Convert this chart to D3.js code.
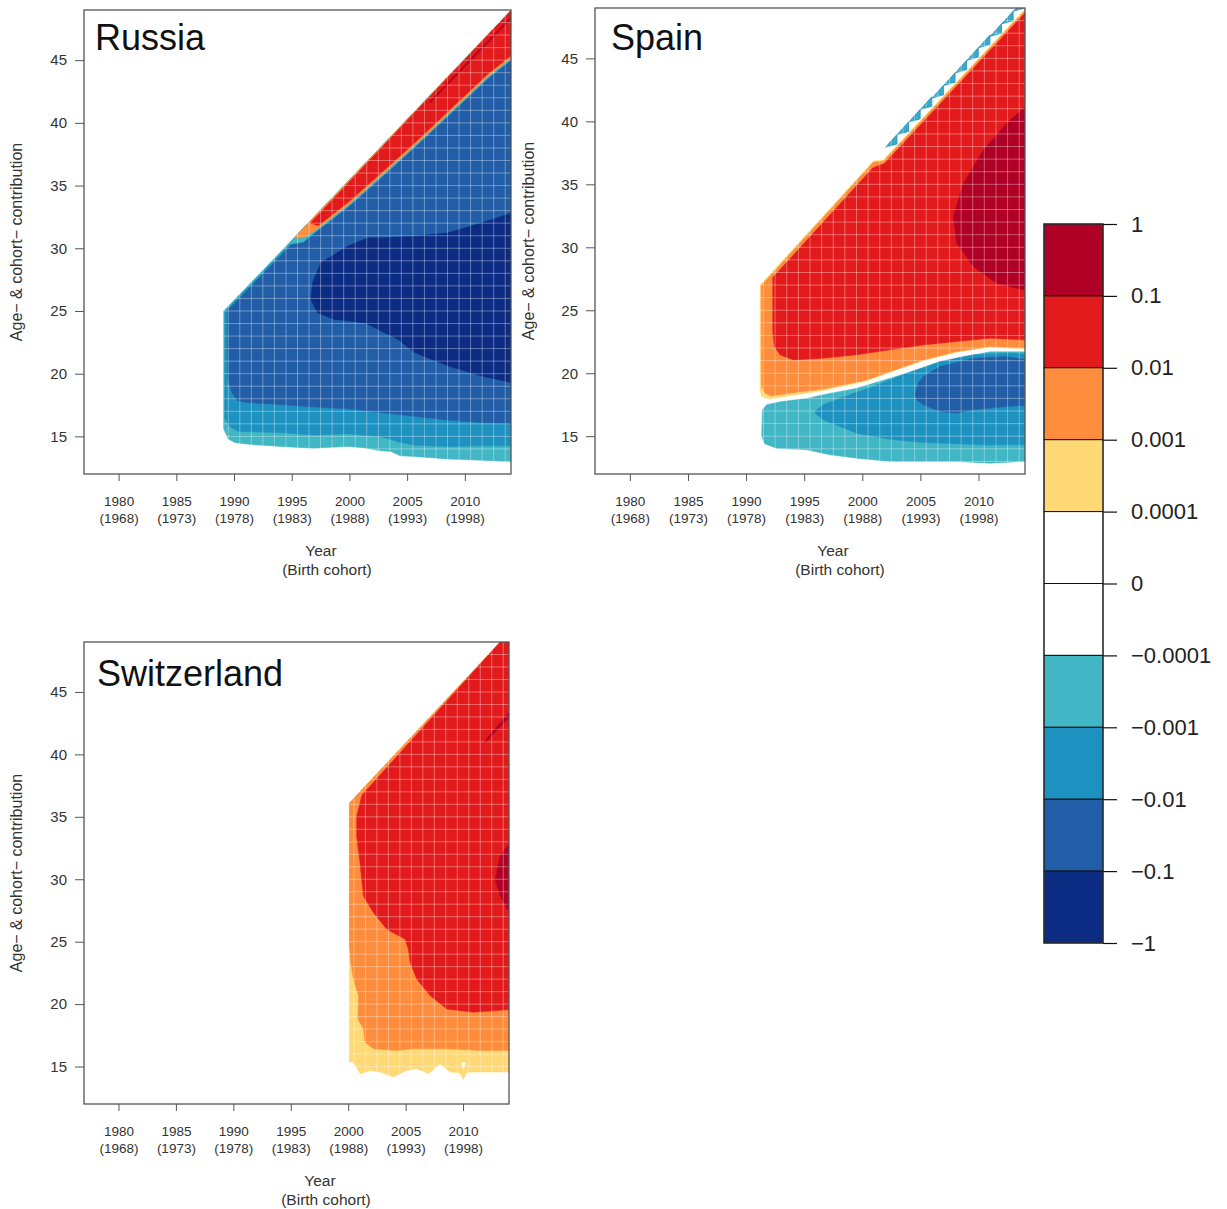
<!DOCTYPE html>
<html>
<head>
<meta charset="utf-8">
<script src="https://cdn.jsdelivr.net/npm/d3@7"></script>
<style>
  body { margin: 0; background: #fff; }
  text { font-family: "Liberation Sans", Arial, Helvetica, sans-serif; }
</style>
</head>
<body>
<script>
const width = 1227;
const height = 1209;

// axis ranges and ticks
const yearRange = [1977, 2014];
const ageRange = [12, 49];
const xTickYears = [1980, 1985, 1990, 1995, 2000, 2005, 2010];
const xTickCohorts = [1968, 1973, 1978, 1983, 1988, 1993, 1998];
const yTicks = [15, 20, 25, 30, 35, 40, 45];

// colour key, top (1) to bottom (-1)
const legendBreaks = ['1', '0.1', '0.01', '0.001', '0.0001', '0', '\u22120.0001', '\u22120.001', '\u22120.01', '\u22120.1', '\u22121'];
const levelColors = ['#B10026', '#E31A1C', '#FD8D3C', '#FED976', '#FFFFFF', '#FFFFFF', '#41B6C4', '#1D91C0', '#225EA8', '#0C2C84'];

// contour regions as [year, age] outlines
// Russia
const ruDomain = [[1989.1,25.0],[1995.2,30.83],[2014.04,49.0],[2014.6,49.55],[2014.6,12.95],[2011.4,13.1],[2008.5,13.2],[2005.6,13.4],[2004.4,13.45],[2003.6,13.8],[2002.7,13.85],[2001.2,14.1],[1999.8,14.2],[1996.9,14.05],[1994.0,14.2],[1991.5,14.35],[1990.1,14.5],[1989.5,14.8],[1989.1,15.6]];
const ruMid = [[1989.2,24.95],[1995.2,30.7],[2014.6,49.3],[2014.6,14.25],[2011.4,14.25],[2008.5,14.2],[2005.6,14.3],[2004.5,14.5],[2002.7,15.0],[1999.8,15.2],[1996.9,15.1],[1994.0,15.3],[1990.3,15.4],[1989.6,15.8],[1989.2,16.4]];
const ruBlue = [[1989.4,25.0],[1995.2,30.5],[2014.6,49.0],[2014.6,16.0],[2011.4,16.1],[2008.5,16.3],[2005.6,16.6],[2002.7,16.9],[1999.8,17.2],[1996.9,17.35],[1994.0,17.55],[1991.1,17.7],[1990.3,17.85],[1989.8,18.5],[1989.45,19.5]];
const ruDark = [[2014.6,33.0],[2014.04,32.82],[2011.43,32.02],[2008.54,31.23],[2005.64,30.96],[2002.74,30.83],[2001.58,30.83],[1999.84,30.17],[1997.52,28.84],[1996.8,27.25],[1996.65,25.92],[1997.23,24.86],[1998.68,24.33],[2001.29,24.07],[2004.19,22.74],[2005.64,21.68],[2008.54,20.62],[2011.43,19.82],[2014.04,19.29],[2014.6,19.2]];
const ruStripCyan = [[1994.7,30.3],[1995.2,30.83],[2014.04,49.0],[2014.6,49.55],[2014.6,45.45],[2012,43.55],[2009,40.95],[2006,38.35],[2003,35.85],[2000,33.4],[1997,31.25],[1996.0,30.5]];
const ruStripOrange = [[1995.2,30.83],[2014.04,49.0],[2014.6,49.55],[2014.6,45.6],[2012,43.7],[2009,41.1],[2006,38.5],[2003,36.0],[2000,33.55],[1997,31.4],[1996.0,30.83]];
const ruStripRed = [[1996.6,32.0],[2014.04,49.0],[2014.6,49.55],[2014.6,45.8],[2012,43.9],[2009,41.3],[2006,38.7],[2003,36.2],[2000,33.75],[1997.3,31.8]];
const ruStripLine = [[2007.0,41.6],[2014.6,48.85],[2014.6,49.05],[2007.0,41.75]];

// Spain
const spYellow = [[1991.2,27.0],[2000.95,36.85],[2001.81,36.94],[2014.6,49.5],[2014.6,21.95],[2013.86,21.95],[2011.0,22.07],[2008.12,21.67],[2005.26,21.0],[2002.39,20.08],[2000.38,19.38],[1996.65,18.62],[1993.78,18.22],[1992.06,17.94],[1991.34,18.15],[1991.2,18.68]];
const spOrange = [[1991.3,26.95],[2000.95,36.75],[2001.81,36.84],[2014.6,49.4],[2014.6,22.0],[2013.86,22.0],[2011.0,22.12],[2008.12,21.72],[2005.26,21.06],[2002.39,20.14],[2000.38,19.47],[1996.65,18.74],[1993.78,18.42],[1992.2,18.2],[1991.63,18.42],[1991.34,18.95]];
const spRed = [[1992.3,27.6],[2000.9,36.3],[2001.9,36.65],[2014.6,49.2],[2014.6,22.65],[2013.86,22.65],[2011.0,22.78],[2008.12,22.52],[2005.26,22.25],[2002.39,21.86],[1999.52,21.46],[1996.65,21.2],[1994.07,21.06],[1992.92,21.46],[1992.43,22.12],[1992.3,23.2]];
const spDarkRed = [[2014.6,41.2],[2013.86,41.04],[2012.43,39.85],[2010.42,37.73],[2008.7,35.08],[2007.84,32.44],[2008.12,30.32],[2009.56,28.47],[2011.57,27.15],[2013.86,26.62],[2014.6,26.5]];
const spCyan = [[1991.4,17.1],[1991.77,17.5],[1993.06,17.75],[1995.22,18.0],[1996.65,18.3],[1999.52,18.8],[2002.39,19.6],[2005.26,20.4],[2008.12,21.2],[2011.0,21.7],[2014.6,21.7],[2014.6,12.95],[2013.86,13.0],[2011.0,12.86],[2008.12,13.0],[2005.26,13.0],[2002.39,13.0],[1999.52,13.26],[1997.22,13.52],[1995.22,13.92],[1992.6,14.05],[1991.6,14.4],[1991.34,15.0]];
const spMid = [[1995.93,16.83],[1996.08,17.1],[1996.65,17.49],[1998.08,18.02],[2000.95,18.95],[2003.82,20.0],[2006.69,20.93],[2009.56,21.46],[2012.43,21.6],[2014.6,21.5],[2014.6,14.35],[2011.0,14.3],[2008.12,14.4],[2005.26,14.5],[2002.39,14.75],[1999.52,15.24],[1998.08,15.77],[1996.65,16.3]];
const spBlue = [[2004.54,18.29],[2004.8,19.2],[2005.26,19.74],[2006.69,20.53],[2009.56,21.2],[2012.43,21.33],[2014.6,21.0],[2014.6,17.5],[2012.43,17.36],[2009.56,17.1],[2008.12,16.83],[2006.69,16.96],[2005.26,17.49],[2004.68,17.89]];
// small negative cells along the Spain diagonal
const spTriYears = [2002.6, 2003.6, 2004.6, 2005.6, 2006.6, 2007.6, 2008.6, 2009.6, 2010.6, 2011.6, 2012.6, 2013.6];
const spTriAges = [38.0, 39.0, 40.0, 41.0, 41.9, 42.9, 43.9, 44.9, 45.9, 46.8, 47.8, 48.8];

// Switzerland
const swYellow = [[2000.1,36.1],[2013.23,49.0],[2014.6,50.35],[2014.6,14.56],[2012.36,14.56],[2010.9,14.56],[2010.3,14.5],[2010.03,13.95],[2009.7,14.5],[2008.87,14.56],[2008.0,15.22],[2006.99,14.43],[2005.97,14.82],[2005.1,14.69],[2003.94,14.16],[2002.78,14.56],[2001.9,14.69],[2001.03,14.43],[2000.45,15.36],[2000.1,15.36]];
const swNotch = [[2009.85,15.3],[2010.2,15.3],[2010.03,14.8]];
const swOrange = [[2000.1,36.1],[2013.23,49.0],[2014.6,50.35],[2014.6,16.29],[2011.48,16.29],[2008.58,16.42],[2005.68,16.42],[2004.23,16.29],[2002.2,16.42],[2001.47,16.95],[2001.32,18.02],[2000.85,18.81],[2000.9,20.68],[2000.45,22.0],[2000.22,23.34],[2000.12,24.67],[2000.1,25.5]];
const swRed = [[2001.2,36.75],[2013.23,49.0],[2014.6,50.35],[2014.6,19.61],[2012.94,19.48],[2010.9,19.35],[2008.58,19.61],[2007.13,20.68],[2005.97,22.0],[2005.39,23.34],[2005.24,24.4],[2004.95,25.2],[2003.36,26.0],[2002.2,27.32],[2001.32,28.65],[2001.03,31.31],[2000.74,33.44],[2000.74,35.04]];
const swDarkRed = [[2014.6,33.1],[2014.04,32.91],[2013.23,31.85],[2012.79,29.98],[2013.23,28.65],[2014.04,27.32],[2014.6,27.1]];
const swSliver = [[2011.9,40.9],[2014.6,43.55],[2014.6,44.0],[2012.05,41.25]];

// layout of the three panels
const panels = [
  { name: 'Russia', box: [84, 10, 511, 474], title: [95, 50], ylab: 18, xlab: [321, 327],
    regions: [[6, ruDomain], [7, ruMid], [8, ruBlue], [9, ruDark], [6, ruStripCyan], [2, ruStripOrange], [1, ruStripRed], [0, ruStripLine]] },
  { name: 'Spain', box: [595, 8, 1025, 474], title: [611, 50], ylab: 530, xlab: [833, 840], triangles: true,
    regions: [[3, spYellow], [2, spOrange], [1, spRed], [0, spDarkRed], [6, spCyan], [7, spMid], [8, spBlue]] },
  { name: 'Switzerland', box: [84, 642, 509, 1104], title: [97, 686], ylab: 18, xlab: [320, 326],
    regions: [[3, swYellow], [4, swNotch], [2, swOrange], [1, swRed], [0, swDarkRed], [0, swSliver]] }
];

const svg = d3.select('body').append('svg')
  .attr('width', width)
  .attr('height', height);

panels.forEach((p, i) => {
  const [x0, y0, x1, y1] = p.box;
  const x = d3.scaleLinear().domain(yearRange).range([x0, x1]);
  const y = d3.scaleLinear().domain(ageRange).range([y1, y0]);

  const clipId = 'clip' + i;
  svg.append('clipPath').attr('id', clipId)
    .append('rect').attr('x', x0).attr('y', y0).attr('width', x1 - x0).attr('height', y1 - y0);

  const g = svg.append('g').attr('clip-path', `url(#${clipId})`);

  const outline = d3.line()
    .x(d => x(d[0]))
    .y(d => y(d[1]))
    .curve(d3.curveLinearClosed);

  g.selectAll('path.region')
    .data(p.regions)
    .enter().append('path')
    .attr('class', 'region')
    .attr('d', d => outline(d[1]))
    .attr('fill', d => levelColors[d[0]])
    .attr('stroke', d => levelColors[d[0]])
    .attr('stroke-width', 0.5);

  if (p.triangles) {
    const tri = spTriYears.map((yr, k) => {
      const a = spTriAges[k];
      return [[yr - 0.6, a - 0.05], [yr + 0.38, a + 0.95], [yr + 0.38, a + 0.2]];
    });
    g.selectAll('path.tri')
      .data(tri)
      .enter().append('path')
      .attr('class', 'tri')
      .attr('d', outline)
      .attr('fill', '#3AAAC8')
      .attr('stroke', '#1D91C0')
      .attr('stroke-width', 0.8);
  }

  // faint white grid over the image cells
  const gridYears = d3.range(yearRange[0] + 0.5, yearRange[1], 1);
  const gridAges = d3.range(ageRange[0] + 1, ageRange[1], 1);
  g.selectAll('line.gx').data(gridYears).enter().append('line')
    .attr('x1', d => x(d)).attr('x2', d => x(d))
    .attr('y1', y0).attr('y2', y1)
    .attr('stroke', '#fff').attr('stroke-opacity', 0.35).attr('stroke-width', 1);
  g.selectAll('line.gy').data(gridAges).enter().append('line')
    .attr('y1', d => y(d)).attr('y2', d => y(d))
    .attr('x1', x0).attr('x2', x1)
    .attr('stroke', '#fff').attr('stroke-opacity', 0.35).attr('stroke-width', 1);

  svg.append('rect')
    .attr('x', x0).attr('y', y0)
    .attr('width', x1 - x0).attr('height', y1 - y0)
    .attr('fill', 'none')
    .attr('stroke', '#555')
    .attr('stroke-width', 1.3);

  // y axis
  const yAxis = svg.append('g')
    .attr('transform', `translate(${x0},0)`)
    .call(d3.axisLeft(y).tickValues(yTicks).tickSize(9).tickPadding(8));
  yAxis.select('.domain').remove();
  yAxis.selectAll('line').attr('stroke', '#555');
  yAxis.selectAll('text').attr('font-size', 15).attr('fill', '#333')
    .attr('font-family', '"Liberation Sans", Arial, sans-serif');

  // x axis with year and birth cohort
  const xAxis = svg.append('g')
    .attr('transform', `translate(0,${y1})`)
    .call(d3.axisBottom(x).tickValues(xTickYears).tickSize(7));
  xAxis.select('.domain').remove();
  xAxis.selectAll('line').attr('stroke', '#555');
  xAxis.selectAll('text').remove();
  xAxis.selectAll('.tick').each(function(d) {
    const k = xTickYears.indexOf(d);
    const t = d3.select(this).append('text')
      .attr('text-anchor', 'middle')
      .attr('font-size', 13.5)
      .attr('fill', '#333');
    t.append('tspan').attr('x', 0).attr('y', 32).text(d);
    t.append('tspan').attr('x', 0).attr('y', 49).text(`(${xTickCohorts[k]})`);
  });

  svg.append('text')
    .attr('x', p.xlab[0]).attr('y', y1 + 82)
    .attr('text-anchor', 'middle')
    .attr('font-size', 15.5).attr('fill', '#333')
    .text('Year');
  svg.append('text')
    .attr('x', p.xlab[1]).attr('y', y1 + 101)
    .attr('text-anchor', 'middle')
    .attr('font-size', 15.5).attr('fill', '#333')
    .text('(Birth cohort)');

  svg.append('text')
    .attr('transform', `translate(${p.ylab},${(y0 + y1) / 2}) rotate(-90)`)
    .attr('text-anchor', 'middle')
    .attr('dominant-baseline', 'middle')
    .attr('font-size', 16).attr('fill', '#333')
    .text('Age\u2212 & cohort\u2212 contribution');

  svg.append('text')
    .attr('x', p.title[0]).attr('y', p.title[1])
    .attr('font-size', 36).attr('fill', '#111')
    .text(p.name);
});

// colour key
const legendX = 1044;
const legendW = 59;
const ly = d3.scalePoint().domain(legendBreaks).range([224, 943]);
const legend = svg.append('g');

legend.selectAll('rect.band')
  .data(levelColors)
  .enter().append('rect')
  .attr('class', 'band')
  .attr('x', legendX)
  .attr('y', (d, k) => ly(legendBreaks[k]))
  .attr('width', legendW)
  .attr('height', (d, k) => ly(legendBreaks[k + 1]) - ly(legendBreaks[k]))
  .attr('fill', d => d)
  .attr('stroke', '#111')
  .attr('stroke-width', 1);

legend.append('rect')
  .attr('x', legendX).attr('y', 224)
  .attr('width', legendW).attr('height', 943 - 224)
  .attr('fill', 'none').attr('stroke', '#333').attr('stroke-width', 1.2);

const legendAxis = legend.append('g')
  .attr('transform', `translate(${legendX + legendW},0)`)
  .call(d3.axisRight(ly).tickSize(14).tickPadding(14));
legendAxis.select('.domain').remove();
legendAxis.selectAll('line').attr('stroke', '#111').attr('stroke-width', 1.2);
legendAxis.selectAll('text')
  .attr('font-size', 22).attr('fill', '#222')
  .attr('font-family', '"Liberation Sans", Arial, sans-serif');
</script>
</body>
</html>
